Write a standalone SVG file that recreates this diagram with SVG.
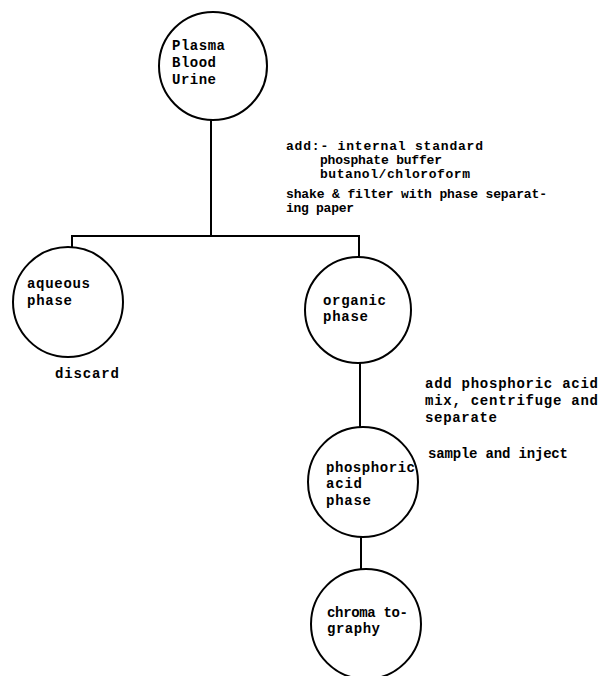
<svg xmlns="http://www.w3.org/2000/svg" width="601" height="676" viewBox="0 0 601 676">
<style>
.n{fill:none;stroke:#000;stroke-width:2}
.c{fill:none;stroke:#000;stroke-width:2}
text{font-family:"Liberation Mono","DejaVu Sans Mono",monospace;font-size:13px;font-weight:bold;fill:#000}
.b{font-size:14px}
</style>
<rect width="601" height="676" fill="#fff"/>
<g id="connectors">
<path class="c" d="M211 120V236M72 247V236H359V258"/>
<path class="c" d="M360 363V428"/>
<path class="c" d="M361 537V569"/>
</g>
<g id="node-sample">
<circle class="n" cx="213" cy="66" r="54"/>
<text class="b" x="172" y="50" textLength="53">Plasma</text>
<text class="b" x="172" y="67" textLength="44">Blood</text>
<text class="b" x="172" y="84" textLength="44">Urine</text>
</g>
<g id="node-aqueous">
<circle class="n" cx="68" cy="302" r="55"/>
<text class="b" x="27" y="288" textLength="63">aqueous</text>
<text class="b" x="27" y="305" textLength="45">phase</text>
</g>
<g id="node-organic">
<circle class="n" cx="358" cy="310" r="53"/>
<text class="b" x="323" y="305" textLength="63">organic</text>
<text class="b" x="323" y="321" textLength="45">phase</text>
</g>
<g id="node-phosphoric">
<circle class="n" cx="363" cy="482" r="55"/>
<text class="b" x="326" y="472" textLength="89">phosphoric</text>
<text class="b" x="326" y="488" textLength="36">acid</text>
<text class="b" x="326" y="505" textLength="45">phase</text>
</g>
<g id="node-chromatography">
<circle class="n" cx="366" cy="624" r="55"/>
<text class="b" x="327" y="617" textLength="81">chroma to-</text>
<text class="b" x="327" y="633" textLength="53">graphy</text>
</g>
<g id="labels">
<text x="286" y="150" textLength="197">add:- internal standard</text>
<text x="320" y="164" textLength="122">phosphate buffer</text>
<text x="320" y="178" textLength="150">butanol/chloroform</text>
<text x="286" y="198" textLength="261">shake &amp; filter with phase separat-</text>
<text x="286" y="212" textLength="68">ing paper</text>
<text class="b" x="55" y="378" textLength="64">discard</text>
<text class="b" x="425" y="388" textLength="173">add phosphoric acid</text>
<text class="b" x="425" y="405" textLength="173">mix, centrifuge and</text>
<text class="b" x="425" y="422" textLength="72">separate</text>
<text class="b" x="428" y="458" textLength="140">sample and inject</text>
</g>
</svg>
